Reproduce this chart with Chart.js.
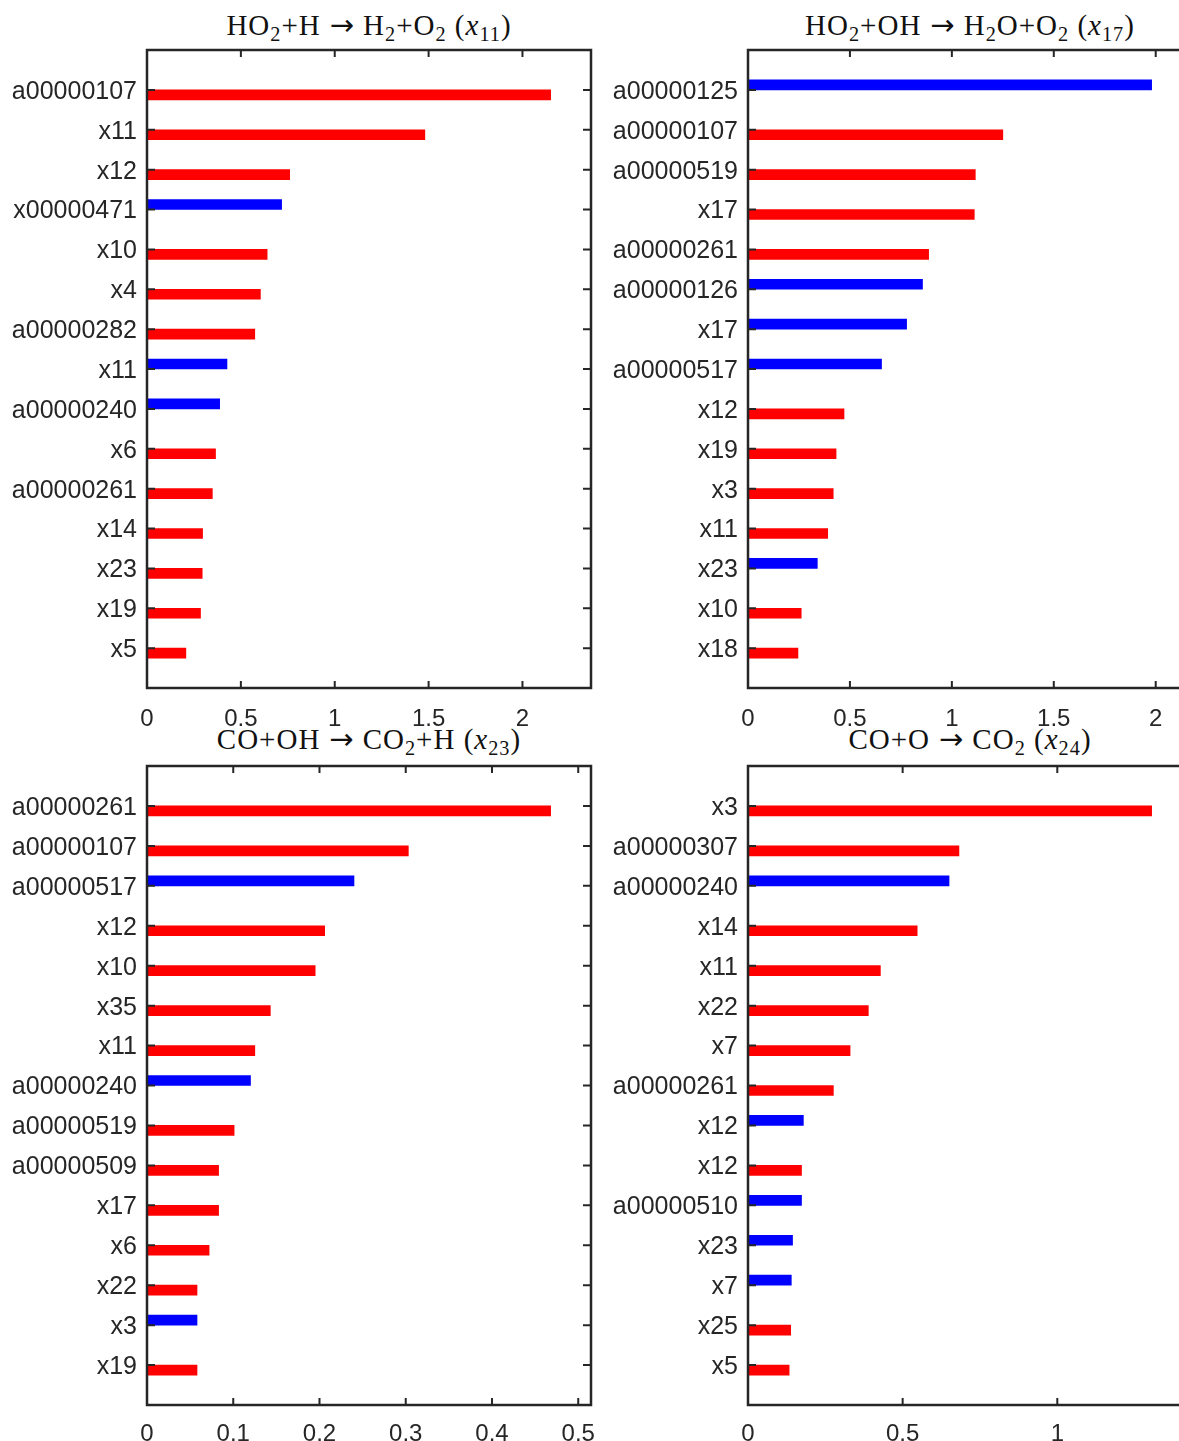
<!DOCTYPE html>
<html>
<head>
<meta charset="utf-8">
<script src="https://cdn.jsdelivr.net/npm/chart.js@4.4.1/dist/chart.umd.min.js"></script>
<style>
  html, body { margin: 0; padding: 0; background: #fff; overflow: hidden; width: 1179px; height: 1441px; }
  canvas { position: absolute; }
  .title {
    position: absolute; white-space: nowrap; transform: translateX(-50%);
    font-family: "Liberation Serif", "Times New Roman", serif; font-size: 29px;
    letter-spacing: 1px; line-height: 30px; color: #111;
  }
  .title sub { font-size: 0.7em; vertical-align: -0.28em; line-height: 0; }
  .title .ar { font-family: "DejaVu Sans", sans-serif; font-size: 1em; margin: 0 9px; letter-spacing: 0; }
</style>
</head>
<body>

<div class="title" style="left:369px; top:10px">HO<sub>2</sub>+H<span class="ar">&rarr;</span>H<sub>2</sub>+O<sub>2</sub> (<i>x</i><sub>11</sub>)</div>
<div class="title" style="left:970px; top:10px">HO<sub>2</sub>+OH<span class="ar">&rarr;</span>H<sub>2</sub>O+O<sub>2</sub> (<i>x</i><sub>17</sub>)</div>
<div class="title" style="left:369px; top:724px">CO+OH<span class="ar">&rarr;</span>CO<sub>2</sub>+H (<i>x</i><sub>23</sub>)</div>
<div class="title" style="left:970px; top:724px">CO+O<span class="ar">&rarr;</span>CO<sub>2</sub> (<i>x</i><sub>24</sub>)</div>

<canvas id="c1" width="600" height="740" style="left:0; top:0"></canvas>
<canvas id="c2" width="600" height="740" style="left:600px; top:0"></canvas>
<canvas id="c3" width="600" height="725" style="left:0; top:716px"></canvas>
<canvas id="c4" width="600" height="725" style="left:600px; top:716px"></canvas>

<script>
// ----- panel 1: HO2+H -> H2+O2 (x11)
const labels1 = ["a00000107", "x11", "x12", "x00000471", "x10", "x4", "a00000282", "x11",
                 "a00000240", "x6", "a00000261", "x14", "x23", "x19", "x5"];
const values1 = [2.15, 1.48, 0.76, 0.717, 0.64, 0.604, 0.574, 0.426, 0.387, 0.365, 0.348, 0.296, 0.294, 0.285, 0.207];
const blue1   = [0, 0, 0, 1, 0, 0, 0, 1, 1, 0, 0, 0, 0, 0, 0];

// ----- panel 2: HO2+OH -> H2O+O2 (x17)
const labels2 = ["a00000125", "a00000107", "a00000519", "x17", "a00000261", "a00000126", "x17",
                 "a00000517", "x12", "x19", "x3", "x11", "x23", "x10", "x18"];
const values2 = [1.98, 1.25, 1.115, 1.11, 0.886, 0.856, 0.778, 0.655, 0.471, 0.432, 0.418, 0.391, 0.34, 0.261, 0.245];
const blue2   = [1, 0, 0, 0, 0, 1, 1, 1, 0, 0, 0, 0, 1, 0, 0];

// ----- panel 3: CO+OH -> CO2+H (x23)
const labels3 = ["a00000261", "a00000107", "a00000517", "x12", "x10", "x35", "x11", "a00000240",
                 "a00000519", "a00000509", "x17", "x6", "x22", "x3", "x19"];
const values3 = [0.468, 0.303, 0.24, 0.206, 0.195, 0.143, 0.125, 0.12, 0.101, 0.083, 0.083, 0.072, 0.058, 0.058, 0.058];
const blue3   = [0, 0, 1, 0, 0, 0, 0, 1, 0, 0, 0, 0, 0, 1, 0];

// ----- panel 4: CO+O -> CO2 (x24)
const labels4 = ["x3", "a00000307", "a00000240", "x14", "x11", "x22", "x7", "a00000261",
                 "x12", "x12", "a00000510", "x23", "x7", "x25", "x5"];
const values4 = [1.305, 0.682, 0.65, 0.547, 0.428, 0.389, 0.33, 0.276, 0.179, 0.173, 0.173, 0.144, 0.14, 0.138, 0.133];
const blue4   = [0, 0, 1, 0, 0, 0, 0, 0, 1, 0, 1, 1, 1, 0, 0];

const steps = [0.5, 0.5, 0.1, 0.5];

const INK = "#262626";
const FAMILY = '"Liberation Sans", Arial, Helvetica, sans-serif';

/* matlab style box with inward ticks on all four sides */
const boxPlugin = {
  id: "box",
  afterDatasetsDraw(chart) {
    const { ctx, chartArea: a, scales: { x, y } } = chart;
    const n = chart.data.datasets[0].data.length;
    ctx.save();
    ctx.strokeStyle = INK;
    ctx.lineWidth = 2;
    ctx.beginPath();
    x.ticks.forEach(t => {
      const px = x.getPixelForValue(t.value);
      ctx.moveTo(px, a.bottom); ctx.lineTo(px, a.bottom - 7);
      ctx.moveTo(px, a.top); ctx.lineTo(px, a.top + 7);
    });
    y.ticks.forEach(t => {
      if (t.value < 1 || t.value > n) return;
      const py = y.getPixelForValue(t.value);
      ctx.moveTo(a.left, py); ctx.lineTo(a.left + 8, py);
      ctx.moveTo(a.right, py); ctx.lineTo(a.right - 8, py);
    });
    ctx.stroke();
    ctx.lineWidth = 2.5;
    ctx.strokeRect(a.left, a.top, a.right - a.left, a.bottom - a.top);
    ctx.restore();
  }
};

function makePanel(id, labels, values, blue, step, yWidth, xHeight, padRight, labelPad) {
  const n = labels.length;
  const xMax = Math.max(...values) * 1.1;

  const blueData = values.map((v, i) => ({ x: blue[i] ? v : null, y: i + 1 }));
  const redData  = values.map((v, i) => ({ x: blue[i] ? null : v, y: i + 1 }));

  return new Chart(document.getElementById(id), {
    type: "bar",
    data: {
      datasets: [
        { data: blueData, backgroundColor: "#0000ff", barThickness: 10 },
        { data: redData,  backgroundColor: "#ff0000", barThickness: 10 }
      ]
    },
    options: {
      indexAxis: "y",
      responsive: false,
      animation: false,
      layout: { padding: { top: 50, right: padRight, left: 0, bottom: 0 } },
      plugins: { legend: { display: false }, tooltip: { enabled: false } },
      scales: {
        x: {
          type: "linear",
          min: 0,
          max: xMax,
          grid: { display: false },
          border: { display: false },
          afterFit: s => { s.height = xHeight; s.paddingLeft = 0; s.paddingRight = 0; },
          ticks: {
            stepSize: step,
            includeBounds: false,
            autoSkip: false,
            maxRotation: 0,
            padding: labelPad,
            color: INK,
            font: { family: FAMILY, size: 24 },
            callback: v => String(+v.toFixed(2))
          }
        },
        y: {
          type: "linear",
          min: 0,
          max: n + 1,
          reverse: true,
          offset: false,
          grid: { display: false, offset: false },
          border: { display: false },
          afterFit: s => { s.width = yWidth; },
          ticks: {
            stepSize: 1,
            autoSkip: false,
            maxTicksLimit: 40,
            padding: 2,
            labelOffset: 2,
            color: INK,
            font: { family: FAMILY, size: 25 },
            callback: v => labels[v - 1] || ""
          }
        }
      }
    },
    plugins: [boxPlugin]
  });
}

makePanel("c1", labels1, values1, blue1, steps[0], 147, 52, 9, 9);
makePanel("c2", labels2, values2, blue2, steps[1], 148, 52, 8, 9);
makePanel("c3", labels3, values3, blue3, steps[2], 147, 36, 9, 7);
makePanel("c4", labels4, values4, blue4, steps[3], 148, 36, 8, 7);
</script>
</body>
</html>
